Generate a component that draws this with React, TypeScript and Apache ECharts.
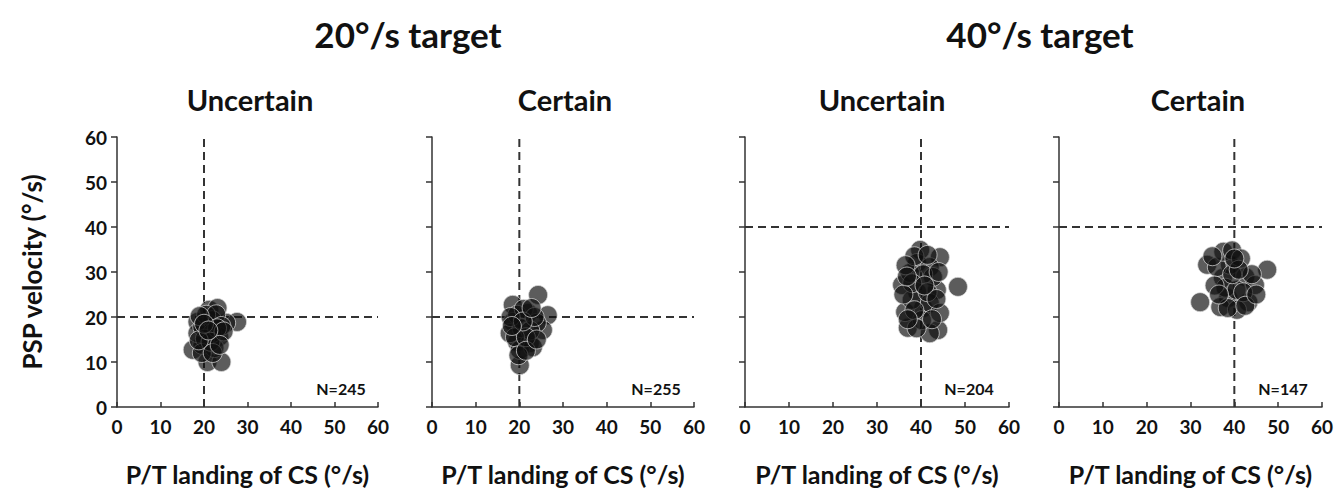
import React, { useEffect, useRef } from "react";
import * as echarts from "echarts";

const groupTitles = ["20°/s target", "40°/s target"];
const panelTitles = ["Uncertain", "Certain", "Uncertain", "Certain"];
const nLabels = ["N=245", "N=255", "N=204", "N=147"];
const targets = [20, 20, 40, 40];
const axisTicks = [0, 10, 20, 30, 40, 50, 60];

const p20Uncertain: number[][] = [
  [18.5, 18.9], [27.6, 18.9], [25.1, 18.7], [23.5, 15.6], [17.4, 12.7], [20.8, 10.0],
  [24.0, 10.0], [19.6, 13.8], [22.4, 13.1], [21.2, 21.6], [23.1, 22.0], [18.5, 16.4],
  [19.6, 17.8], [21.9, 19.3], [21.9, 16.4], [20.5, 20.5], [22.8, 20.6], [19.0, 20.2],
  [24.0, 18.0], [20.2, 15.2], [23.0, 17.5], [19.5, 12.0], [21.5, 14.5], [18.8, 14.8],
  [22.0, 12.0], [20.0, 18.5], [24.5, 16.8], [23.6, 13.8], [21.0, 17.0],
];
const p20Certain: number[][] = [
  [24.3, 24.9], [18.5, 22.7], [26.5, 20.4], [18.5, 18.9], [25.4, 17.1], [19.5, 14.4],
  [20.1, 9.3], [22.4, 14.2], [22.0, 20.9], [17.8, 16.4], [24.0, 18.7], [20.1, 12.7],
  [23.1, 13.3], [19.5, 20.5], [21.0, 21.8], [20.5, 17.5], [22.5, 17.0], [19.0, 15.5],
  [21.5, 15.5], [23.5, 20.0], [18.0, 20.0], [20.8, 19.0], [22.8, 22.0], [19.8, 11.5],
  [21.5, 12.5], [24.0, 15.0], [18.3, 18.0],
];
const p40Uncertain: number[][] = [
  [39.8, 34.9], [44.3, 33.3], [48.4, 26.7], [35.7, 27.1], [39.1, 25.6], [43.6, 26.0],
  [40.5, 22.0], [37.0, 17.6], [43.9, 17.1], [42.0, 16.4], [36.4, 21.1], [39.1, 32.0],
  [42.0, 31.1], [37.5, 29.8], [42.7, 28.9], [37.9, 23.8], [42.0, 23.1], [44.3, 20.9],
  [40.2, 19.3], [38.5, 33.5], [41.5, 33.8], [36.5, 31.5], [40.5, 29.5], [38.0, 27.5],
  [44.0, 30.0], [36.0, 25.0], [41.5, 25.5], [38.5, 21.5], [43.5, 24.0], [39.0, 17.5],
  [42.5, 19.5], [37.0, 19.5], [40.8, 27.0], [36.8, 29.0],
];
const p40Certain: number[][] = [
  [47.5, 30.5], [32.2, 23.3], [38.6, 24.2], [42.5, 28.9], [37.4, 28.7], [43.2, 23.3],
  [36.8, 22.2], [33.8, 31.6], [39.0, 31.6], [44.7, 27.1], [40.6, 21.6], [36.0, 31.1],
  [37.5, 34.5], [39.5, 34.8], [41.5, 33.0], [35.0, 33.5], [38.0, 26.5], [40.5, 26.0],
  [42.0, 25.5], [44.0, 29.5], [39.5, 29.5], [35.5, 27.0], [41.0, 30.5], [38.5, 22.0],
  [42.5, 22.5], [45.0, 25.0], [36.5, 25.0], [40.0, 33.0],
];
const panelData = [p20Uncertain, p20Certain, p40Uncertain, p40Certain];

const FONT = "Lato";

export default function App() {
  const ref = useRef<HTMLDivElement>(null);
  useEffect(() => {
    if (!ref.current) return;
    const chart = echarts.init(ref.current, null, { renderer: "svg" });
    const lefts = [117, 432, 745, 1059];
    const widths = [261, 262, 264, 263];
    const top = 137;
    const height = 270;
    const grids = lefts.map((l, i) => ({ left: l, width: widths[i], top, height }));
    const xAxes = grids.map((_, i) => ({
      type: "value",
      gridIndex: i,
      min: 0,
      max: 60,
      interval: 10,
      name: "P/T landing of CS (°/s)",
      nameLocation: "middle",
      nameGap: 54,
      nameTextStyle: { fontFamily: FONT, fontWeight: "bold", fontSize: 25, color: "#111" },
      axisLine: { show: true, onZero: false, lineStyle: { color: "#333", width: 1.5 } },
      axisTick: { show: true, inside: true, length: 5, lineStyle: { color: "#333", width: 1.5 } },
      axisLabel: { fontFamily: FONT, fontWeight: "bold", fontSize: 19, color: "#111", margin: 10,
        formatter: (v: number) => (axisTicks.includes(v) ? String(v) : "") },
      splitLine: { show: false },
    }));
    const yAxes = grids.map((_, i) => ({
      type: "value",
      gridIndex: i,
      min: 0,
      max: 60,
      interval: 10,
      name: i === 0 ? "PSP velocity (°/s)" : "",
      nameLocation: "middle",
      nameGap: 72,
      nameRotate: 90,
      nameTextStyle: { fontFamily: FONT, fontWeight: "bold", fontSize: 26, color: "#111" },
      axisLine: { show: true, onZero: false, lineStyle: { color: "#333", width: 1.5 } },
      axisTick: { show: true, inside: false, length: 6, lineStyle: { color: "#333", width: 1.5 } },
      axisLabel: { show: i === 0, fontFamily: FONT, fontWeight: "bold", fontSize: 19, color: "#111", margin: 10 },
      splitLine: { show: false },
    }));
    const series: any[] = [];
    panelData.forEach((d, i) => {
      const t = targets[i];
      const dash = { color: "#333", width: 2, type: [8, 5] };
      series.push({
        type: "line", xAxisIndex: i, yAxisIndex: i, data: [[t, 0], [t, 60]],
        symbol: "none", lineStyle: dash, z: 1, silent: true,
      });
      series.push({
        type: "line", xAxisIndex: i, yAxisIndex: i, data: [[0, t], [60, t]],
        symbol: "none", lineStyle: dash, z: 1, silent: true,
      });
      series.push({
        type: "scatter", xAxisIndex: i, yAxisIndex: i, data: d, symbolSize: 19, z: 3,
        itemStyle: { color: "rgba(15,15,15,0.85)", borderColor: "rgba(220,220,220,0.9)", borderWidth: 1 },
      });
    });
    const graphic: any[] = [];
    const groupCenters = [408, 1040];
    groupTitles.forEach((t, i) => {
      graphic.push({ type: "text", x: groupCenters[i], y: 34, style: { text: t, font: `bold 35px ${FONT}`, fill: "#111", textAlign: "center", textVerticalAlign: "middle" } });
    });
    const centers = [250, 565, 882, 1198];
    panelTitles.forEach((t, i) => {
      graphic.push({ type: "text", x: centers[i], y: 99, style: { text: t, font: `bold 29px ${FONT}`, fill: "#111", textAlign: "center", textVerticalAlign: "middle" } });
    });
    nLabels.forEach((t, i) => {
      graphic.push({ type: "text", x: lefts[i] + 224, y: 388, style: { text: t, font: `bold 16px ${FONT}`, fill: "#111", textAlign: "center", textVerticalAlign: "middle" } });
    });
    chart.setOption({
      animation: false,
      backgroundColor: "#fff",
      grid: grids,
      xAxis: xAxes,
      yAxis: yAxes,
      series,
      graphic,
    });
    return () => chart.dispose();
  }, []);
  return (
    <div
      ref={ref}
      style={{ position: "fixed", left: 0, top: 0, width: 1338, height: 491, background: "#fff" }}
    />
  );
}
